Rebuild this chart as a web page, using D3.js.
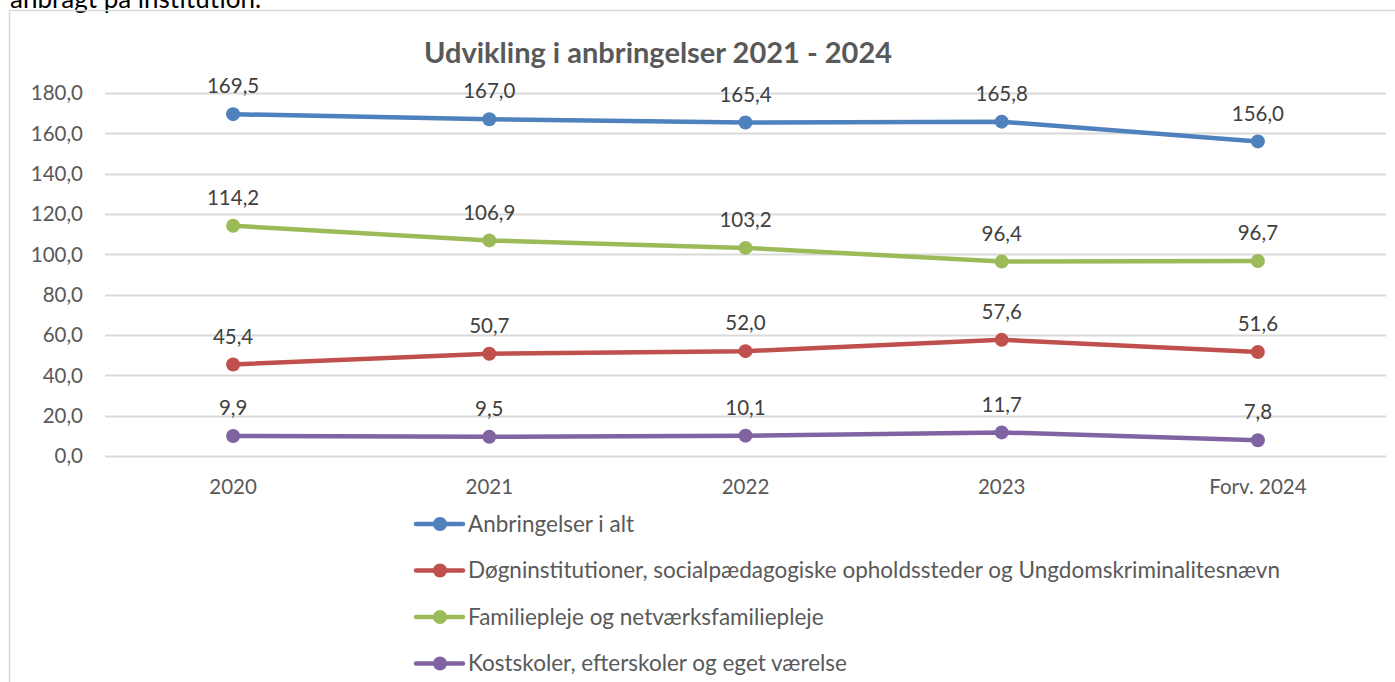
<!DOCTYPE html>
<html>
<head>
<meta charset="utf-8">
<script src="https://cdn.jsdelivr.net/npm/d3@7"></script>
<style>
  body { margin: 0; background: #fff; }
  svg { display: block; font-family: Lato, "Open Sans", sans-serif; }
</style>
</head>
<body>
<div id="chart"></div>
<script>
const categories = ["2020", "2021", "2022", "2023", "Forv. 2024"];
const seriesNames = [
  "Anbringelser i alt",
  "Døgninstitutioner, socialpædagogiske opholdssteder og Ungdomskriminalitesnævn",
  "Familiepleje og netværksfamiliepleje",
  "Kostskoler, efterskoler og eget værelse"
];
const total = [169.5, 167.0, 165.4, 165.8, 156.0];
const institution = [45.4, 50.7, 52.0, 57.6, 51.6];
const family = [114.2, 106.9, 103.2, 96.4, 96.7];
const boarding = [9.9, 9.5, 10.1, 11.7, 7.8];
const yTicks = [0, 20, 40, 60, 80, 100, 120, 140, 160, 180];
const colors = ["#4F81BD", "#C0504D", "#9BBB59", "#8064A2"];

const series = [total, institution, family, boarding].map((values, i) => ({
  name: seriesNames[i], values: values, color: colors[i]
}));

const width = 1395, height = 682;
const fmt = v => d3.format(".1f")(v).replace(".", ",");

const svg = d3.select("#chart").append("svg")
  .attr("width", width)
  .attr("height", height);

// text above the chart (cut off at the top, as in the page it came from)
svg.append("text")
  .attr("x", 10)
  .attr("y", 8)
  .attr("font-size", 26)
  .attr("fill", "#000")
  .text("anbragt på institution.");

svg.append("rect")
  .attr("x", 9.5).attr("y", 10.5)
  .attr("width", 1400).attr("height", 700)
  .attr("fill", "none")
  .attr("stroke", "#d9d9d9")
  .attr("stroke-width", 1.5);

svg.append("text")
  .attr("x", 658)
  .attr("y", 63)
  .attr("text-anchor", "middle")
  .attr("font-size", 29)
  .attr("font-weight", "bold")
  .attr("fill", "#595959")
  .text("Udvikling i anbringelser 2021 - 2024");

const x = d3.scaleBand()
  .domain(categories)
  .range([105, 1386]);

const y = d3.scaleLinear()
  .domain([0, 180])
  .range([456, 93]);

// gridlines
svg.append("g")
  .selectAll("line")
  .data(yTicks)
  .enter()
  .append("line")
  .attr("x1", 105)
  .attr("x2", 1386)
  .attr("y1", d => Math.round(y(d)) + 0.5)
  .attr("y2", d => Math.round(y(d)) + 0.5)
  .attr("stroke", "#d9d9d9")
  .attr("stroke-width", 2);

// y axis labels
svg.append("g")
  .selectAll("text")
  .data(yTicks)
  .enter()
  .append("text")
  .attr("x", 83)
  .attr("y", d => y(d))
  .attr("dy", ".35em")
  .attr("text-anchor", "end")
  .attr("font-size", 20.5)
  .attr("fill", "#595959")
  .text(fmt);

// x axis labels
svg.append("g")
  .selectAll("text")
  .data(categories)
  .enter()
  .append("text")
  .attr("x", d => x(d) + x.bandwidth() / 2)
  .attr("y", 487)
  .attr("dy", ".35em")
  .attr("text-anchor", "middle")
  .attr("font-size", 20.5)
  .attr("fill", "#595959")
  .text(d => d);

const line = d3.line()
  .x((d, i) => x(categories[i]) + x.bandwidth() / 2)
  .y(d => y(d));

const s = svg.selectAll(".series")
  .data(series)
  .enter()
  .append("g")
  .attr("class", "series");

s.append("path")
  .attr("d", d => line(d.values))
  .attr("fill", "none")
  .attr("stroke", d => d.color)
  .attr("stroke-width", 4.5)
  .attr("stroke-linejoin", "round");

s.each(function(d) {
  const g = d3.select(this);
  g.selectAll("circle")
    .data(d.values)
    .enter()
    .append("circle")
    .attr("cx", (v, i) => x(categories[i]) + x.bandwidth() / 2)
    .attr("cy", v => y(v))
    .attr("r", 7)
    .attr("fill", d.color);
  g.selectAll("text")
    .data(d.values)
    .enter()
    .append("text")
    .attr("x", (v, i) => x(categories[i]) + x.bandwidth() / 2)
    .attr("y", v => y(v) - 28)
    .attr("dy", ".35em")
    .attr("text-anchor", "middle")
    .attr("font-size", 20.5)
    .attr("fill", "#404040")
    .text(fmt);
});

// legend
const legend = svg.append("g")
  .selectAll("g")
  .data(series)
  .enter()
  .append("g")
  .attr("transform", (d, i) => `translate(416, ${524 + i * 46.5})`);

legend.append("line")
  .attr("x1", 0).attr("x2", 47)
  .attr("stroke", d => d.color)
  .attr("stroke-width", 4.5)
  .attr("stroke-linecap", "round");

legend.append("circle")
  .attr("cx", 24)
  .attr("r", 7)
  .attr("fill", d => d.color);

legend.append("text")
  .attr("x", 52)
  .attr("dy", ".35em")
  .attr("font-size", 22.5)
  .attr("fill", "#595959")
  .text(d => d.name);
</script>
</body>
</html>
